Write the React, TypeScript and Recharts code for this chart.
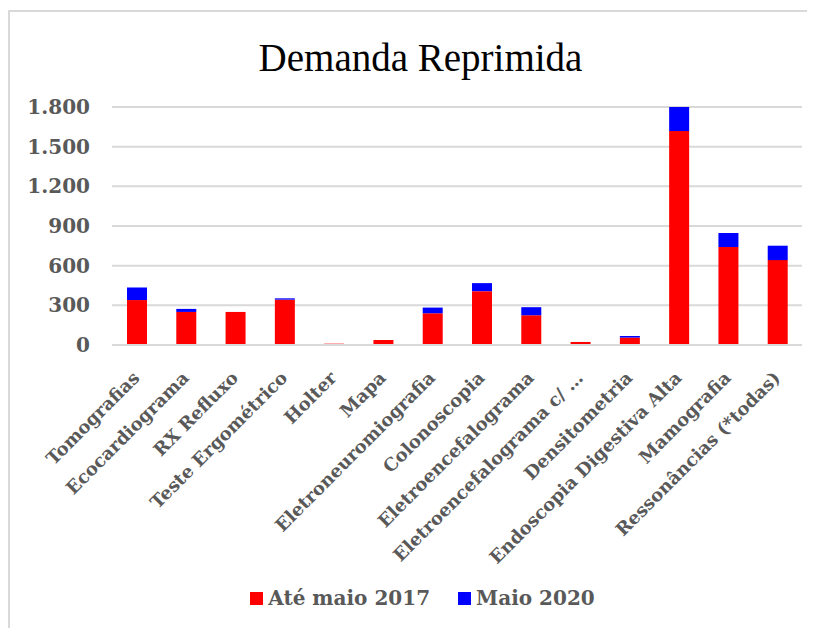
import { BarChart, Bar, XAxis, YAxis, CartesianGrid, Legend } from "recharts"

const categories = [
  "Tomografias", "Ecocardiograma", "RX Refluxo", "Teste Ergométrico", "Holter", "Mapa",
  "Eletroneuromiografia", "Colonoscopia", "Eletroencefalograma", "Eletroencefalograma c/ …",
  "Densitometria", "Endoscopia Digestiva Alta", "Mamografia", "Ressonâncias (*todas)"
]
const ate2017 = [340, 250, 250, 343, 10, 38, 240, 407, 225, 23, 56, 1618, 741, 642]
const maio2020 = [95, 23, 0, 10, 0, 0, 43, 61, 61, 0, 12, 182, 106, 109]
const yTicks = [0, 300, 600, 900, 1200, 1500, 1800]

const data = categories.map((name, i) => ({ name, a: ate2017[i], b: maio2020[i] }))

const grey = "#595959"
const font = "'DejaVu Serif', serif"

const fmt = (v: number) => String(v).replace(/\B(?=(\d{3})+(?!\d))/g, ".")

function XTick({ x, y, payload }: any) {
  const tx = x + 4
  const ty = y + 26
  return (
    <text x={tx} y={ty} transform={`rotate(-45, ${tx}, ${ty})`} textAnchor="end"
      fill={grey} fontFamily={font} fontWeight="bold" fontSize={18}>
      {payload.value}
    </text>
  )
}

function LegendBox() {
  const items = [["#ff0000", "Até maio 2017"], ["#0000ff", "Maio 2020"]]
  return (
    <div style={{ display: "flex", justifyContent: "center", gap: 28, paddingLeft: 22, fontFamily: font, fontWeight: "bold", fontSize: 20, color: grey }}>
      {items.map(([c, t]) => (
        <span key={t} style={{ display: "flex", alignItems: "center", gap: 5 }}>
          <span style={{ width: 13, height: 13, background: c, display: "inline-block" }} />
          {t}
        </span>
      ))}
    </div>
  )
}

export default function App() {
  return (
    <div style={{ position: "relative", marginTop: 2, width: 805, height: 618, borderLeft: "2px solid #d9d9d9", borderTop: "2px solid #d9d9d9", borderRight: "2px solid #d9d9d9", boxSizing: "border-box" }}>
      <div style={{ position: "absolute", top: 23, left: 8, width: 805, textAlign: "center", fontFamily: "'Liberation Serif', serif", fontSize: 39, color: "#000" }}>
        Demanda Reprimida
      </div>
      <BarChart width={803} height={616} data={data} margin={{ top: 95, right: 11, left: 0, bottom: 0 }} barSize={20}>
        <CartesianGrid vertical={false} stroke="#d9d9d9" strokeWidth={2} />
        <YAxis domain={[0, 1800]} ticks={yTicks} tickFormatter={fmt} axisLine={false} tickLine={false}
          tickSize={0} tickMargin={22} width={102}
          tick={{ fill: grey, fontFamily: font, fontWeight: "bold", fontSize: 20 }} />
        <XAxis dataKey="name" interval={0} height={259} tickLine={false} axisLine={{ stroke: "#d9d9d9", strokeWidth: 2 }}
          tick={<XTick />} />
        <Legend content={<LegendBox />} wrapperStyle={{ top: 574, left: 0, width: 803 }} />
        <Bar dataKey="a" name="Até maio 2017" stackId="s" fill="#ff0000" isAnimationActive={false} />
        <Bar dataKey="b" name="Maio 2020" stackId="s" fill="#0000ff" isAnimationActive={false} />
      </BarChart>
    </div>
  )
}
